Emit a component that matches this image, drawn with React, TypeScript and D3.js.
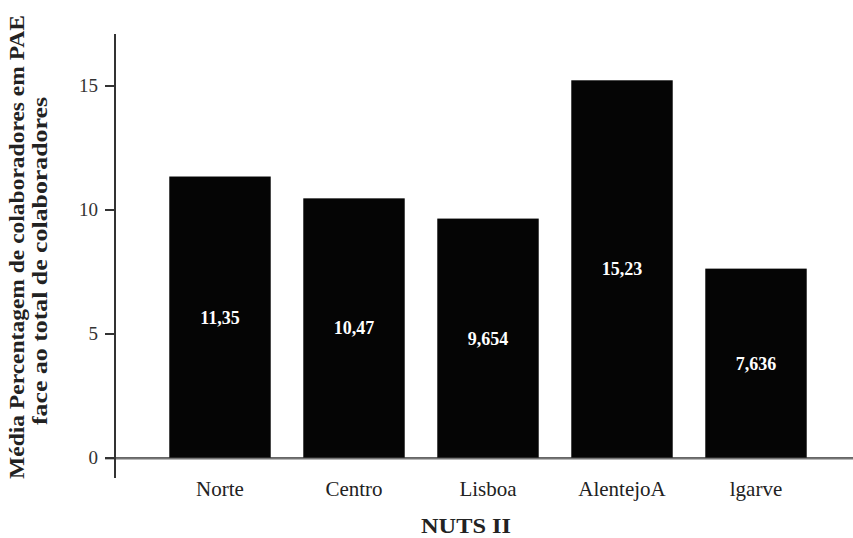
import React from "react";
import * as d3 from "d3";

const categories = ["Norte", "Centro", "Lisboa", "AlentejoA", "lgarve"];
const values = [11.35, 10.47, 9.654, 15.23, 7.636];
const valueLabels = ["11,35", "10,47", "9,654", "15,23", "7,636"];
const yTicks = [0, 5, 10, 15];
const yTitleLines = ["Média Percentagem de colaboradores em PAE", "face ao total de colaboradores"];
const xTitle = "NUTS II";

const W = 853;
const H = 538;
const FONT = '"Liberation Serif", "Times New Roman", serif';

export default function App() {
  const y = d3.scaleLinear().domain([0, 15]).range([458, 86]);
  const x = d3
    .scaleBand<string>()
    .domain(categories)
    .range([153, 823])
    .paddingInner(0.243)
    .paddingOuter(0.1215);
  const axisX = 115;
  const top = y(17.1);
  const ts = { fontFamily: FONT };

  return (
    <svg
      width={W}
      height={H}
      style={{ position: "absolute", left: 0, top: 0, background: "#fff", fontFamily: FONT }}
    >
      {categories.map((c, i) => (
        <rect
          key={c}
          x={x(c)}
          y={y(values[i])}
          width={x.bandwidth()}
          height={y(0) - y(values[i])}
          fill="#050505"
        />
      ))}
      <line x1={105} x2={W} y1={y(0)} y2={y(0)} stroke="#333" strokeWidth={1.5} />
      <line x1={105} x2={W} y1={y(0) + 1.2} y2={y(0) + 1.2} stroke="#999" strokeWidth={1} />
      <line x1={axisX} x2={axisX} y1={top} y2={478} stroke="#333" strokeWidth={2} />
      {yTicks.map((t) => (
        <g key={t}>
          <line x1={105} x2={axisX} y1={y(t)} y2={y(t)} stroke="#333" strokeWidth={2} />
          <text x={98} y={y(t)} dy="0.33em" textAnchor="end" fontSize={19} fill="#333" style={ts}>
            {t}
          </text>
        </g>
      ))}
      {categories.map((c, i) => (
        <text
          key={c + "v"}
          x={(x(c) as number) + x.bandwidth() / 2}
          y={(y(values[i]) + y(0)) / 2}
          dy="0.35em"
          textAnchor="middle"
          fontSize={18}
          fontWeight="bold"
          fill="#fff"
          style={ts}
        >
          {valueLabels[i]}
        </text>
      ))}
      {categories.map((c) => (
        <text
          key={c + "l"}
          x={(x(c) as number) + x.bandwidth() / 2}
          y={496}
          textAnchor="middle"
          fontSize={21}
          fill="#222"
          style={ts}
        >
          {c}
        </text>
      ))}
      <text
        x={466}
        y={533}
        textAnchor="middle"
        fontSize={21}
        fontWeight="bold"
        fill="#222"
        textLength={90}
        lengthAdjust="spacingAndGlyphs"
        style={ts}
      >
        {xTitle}
      </text>
      <text
        transform="translate(24,247) rotate(-90)"
        textAnchor="middle"
        fontSize={21}
        fontWeight="bold"
        fill="#222"
        textLength={464}
        lengthAdjust="spacingAndGlyphs"
        style={ts}
      >
        {yTitleLines[0]}
      </text>
      <text
        transform="translate(47,261) rotate(-90)"
        textAnchor="middle"
        fontSize={21}
        fontWeight="bold"
        fill="#222"
        textLength={328}
        lengthAdjust="spacingAndGlyphs"
        style={ts}
      >
        {yTitleLines[1]}
      </text>
    </svg>
  );
}
